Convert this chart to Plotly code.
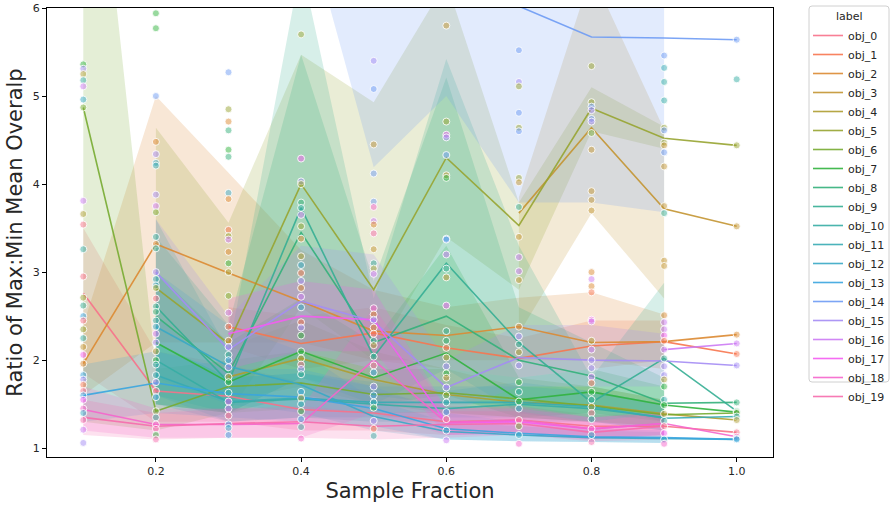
import math
import plotly.graph_objects as go

# ---------------- data ----------------
x_vals = [0.1, 0.2, 0.3, 0.4, 0.5, 0.6, 0.7, 0.8, 0.9, 1.0]
labels = ["obj_0", "obj_1", "obj_2", "obj_3", "obj_4", "obj_5", "obj_6", "obj_7", "obj_8", "obj_9",
          "obj_10", "obj_11", "obj_12", "obj_13", "obj_14", "obj_15", "obj_16", "obj_17", "obj_18", "obj_19"]
legend_title = "label"
N = None

mean_0 = [2.76, 1.65, 1.59, 1.44, 1.40, 1.30, 1.32, 1.25, 1.25, 1.18]
lo_0 = [1.85, 1.30, 1.30, 1.20, 1.20, 1.15, 1.18, 1.12, 1.15, N]
hi_0 = [3.50, 2.10, 1.95, 1.75, 1.65, 1.48, 1.48, 1.38, 1.38, N]

mean_1 = [N, N, 2.38, 2.19, 2.31, 2.14, 2.02, 2.16, 2.21, 2.07]
lo_1 = [N, N, 2.15, 1.90, 2.00, 1.90, 1.80, 1.90, 2.00, N]
hi_1 = [N, N, 2.60, 2.50, 2.60, 2.40, 2.25, 2.45, 2.45, N]

mean_2 = [1.96, 3.32, 2.99, 2.67, 2.33, 2.28, 2.38, 2.20, 2.21, 2.29]
lo_2 = [1.60, 2.20, 2.20, 2.20, 2.00, 2.00, 2.00, 2.00, 1.90, N]
hi_2 = [2.40, 5.00, 4.13, 3.25, 2.80, 2.60, 2.71, 2.77, 2.52, N]

mean_3 = [N, N, N, N, N, N, 3.67, 4.64, 3.72, 3.52]
lo_3 = [N, N, N, N, N, N, 2.30, 3.67, 2.70, N]
hi_3 = [N, N, N, N, N, N, 3.85, 6.40, 4.62, N]

mean_4 = [N, N, 1.81, 2.02, 1.78, 1.61, 1.52, 1.49, 1.39, 1.32]
lo_4 = [N, N, 1.55, 1.70, 1.50, 1.40, 1.35, 1.30, 1.25, N]
hi_4 = [N, N, 2.15, 2.45, 2.10, 1.90, 1.70, 1.70, 1.55, N]

mean_5 = [N, 2.82, 2.19, 4.00, 2.80, 4.30, 3.53, 4.86, 4.52, 4.44]
lo_5 = [N, 1.50, 1.40, 2.60, 2.00, 3.40, 2.80, 4.60, 4.40, N]
hi_5 = [N, 4.64, 3.56, 5.47, 4.93, 6.30, 3.79, 5.10, 4.65, N]

mean_6 = [4.87, 1.42, 1.70, 1.74, 1.61, 1.63, 1.56, 1.48, 1.38, 1.40]
lo_6 = [1.30, 1.20, 1.40, 1.45, 1.40, 1.40, 1.35, 1.30, 1.25, N]
hi_6 = [9.50, 1.90, 2.00, 2.10, 1.90, 1.90, 1.80, 1.70, 1.55, N]

mean_7 = [N, 2.20, 1.75, 2.10, 1.80, 2.08, 1.55, 1.64, 1.49, 1.41]
lo_7 = [N, 1.50, 1.40, 1.60, 1.50, 1.60, 1.35, 1.40, 1.30, N]
hi_7 = [N, 3.00, 2.20, 2.70, 2.20, 3.30, 1.80, 1.90, 1.70, N]

mean_8 = [N, 2.50, 1.85, 3.45, 2.20, 2.50, 2.00, 1.82, 1.51, 1.52]
lo_8 = [N, 1.60, 1.40, 1.80, 1.60, 1.50, 1.50, 1.50, 1.30, N]
hi_8 = [N, 3.40, 2.40, 5.47, 2.90, 5.21, 2.60, 2.20, 1.80, N]

mean_9 = [N, 2.61, 1.75, 3.73, 2.04, 3.10, 2.20, 1.52, 2.02, 1.42]
lo_9 = [N, 1.50, 1.40, 1.80, 1.50, 1.90, 1.40, 1.30, 1.40, N]
hi_9 = [N, 3.60, 2.10, 6.50, 2.70, 5.42, 3.30, 1.80, 2.88, N]

mean_10 = [N, 2.00, 1.52, 1.56, 1.50, 1.45, 1.50, 1.45, 1.35, N]
lo_10 = [N, 1.60, 1.30, 1.35, 1.30, 1.30, 1.30, 1.30, 1.20, N]
hi_10 = [N, 2.50, 1.80, 1.85, 1.75, 1.65, 1.75, 1.65, 1.50, N]

mean_11 = [N, 1.83, 1.53, 1.57, 1.52, 1.52, 1.52, 1.47, 1.34, 1.36]
lo_11 = [N, 1.50, 1.30, 1.35, 1.35, 1.35, 1.35, 1.30, 1.20, N]
hi_11 = [N, 2.20, 1.80, 1.85, 1.70, 1.70, 1.70, 1.65, 1.50, N]

mean_12 = [N, 2.38, 1.93, 1.72, 1.36, 1.19, 1.15, 1.12, 1.11, 1.10]
lo_12 = [N, 1.80, 1.50, 1.40, 1.20, 1.10, 1.08, 1.07, 1.06, N]
hi_12 = [N, 3.00, 2.40, 2.10, 1.55, 1.30, 1.25, 1.20, 1.18, N]

mean_13 = [1.60, 1.74, 1.62, 1.58, 1.45, 1.22, 1.17, 1.13, 1.12, 1.10]
lo_13 = [1.30, 1.40, 1.35, 1.30, 1.25, 1.10, 1.08, 1.07, 1.06, N]
hi_13 = [1.95, 2.10, 1.90, 1.90, 1.70, 1.40, 1.30, 1.22, 1.20, N]

mean_14 = [N, N, N, 9.00, 7.20, 7.50, 6.02, 5.67, 5.66, 5.64]
lo_14 = [N, N, N, 7.20, 4.19, 5.00, 3.79, 3.79, 3.68, N]
hi_14 = [N, N, N, 11.0, 11.0, 11.0, 9.00, 8.00, 8.00, N]

mean_15 = [N, 3.00, 2.12, 2.67, 2.44, 1.69, 2.03, 2.00, 1.99, 1.94]
lo_15 = [N, 2.20, 1.80, 2.10, 1.90, 1.40, 1.70, 1.70, 1.70, N]
hi_15 = [N, 3.60, 2.50, 3.30, 3.20, 2.00, 2.40, 2.40, 2.30, N]

mean_16 = [N, N, N, N, N, N, N, N, 2.12, 2.19]
lo_16 = [N, N, N, N, N, N, N, N, 1.90, N]
hi_16 = [N, N, N, N, N, N, N, N, 2.40, N]

mean_17 = [N, N, 2.30, 2.50, 2.46, 1.29, 1.30, 1.22, 1.28, N]
lo_17 = [N, N, 1.90, 2.10, 2.10, 1.15, 1.15, 1.10, 1.15, N]
hi_17 = [N, N, 2.70, 2.90, 2.80, 1.45, 1.45, 1.35, 1.40, N]

mean_18 = [1.44, 1.27, 1.27, 1.28, 2.00, 1.29, 1.32, 1.22, 1.28, 1.13]
lo_18 = [1.20, 1.12, 1.12, 1.12, 1.40, 1.15, 1.18, 1.10, 1.15, N]
hi_18 = [1.70, 1.45, 1.45, 1.45, 2.60, 1.45, 1.48, 1.35, 1.42, N]

mean_19 = [1.35, 1.25, 1.28, 1.30, 1.25, 1.27, 1.28, 1.18, 1.25, N]
lo_19 = [1.15, 1.10, 1.12, 1.12, 1.10, 1.12, 1.15, 1.08, 1.10, N]
hi_19 = [1.55, 1.40, 1.45, 1.48, 1.40, 1.42, 1.42, 1.30, 1.40, N]

means = [mean_0, mean_1, mean_2, mean_3, mean_4, mean_5, mean_6, mean_7, mean_8, mean_9,
         mean_10, mean_11, mean_12, mean_13, mean_14, mean_15, mean_16, mean_17, mean_18, mean_19]
los = [lo_0, lo_1, lo_2, lo_3, lo_4, lo_5, lo_6, lo_7, lo_8, lo_9,
       lo_10, lo_11, lo_12, lo_13, lo_14, lo_15, lo_16, lo_17, lo_18, lo_19]
his = [hi_0, hi_1, hi_2, hi_3, hi_4, hi_5, hi_6, hi_7, hi_8, hi_9,
       hi_10, hi_11, hi_12, hi_13, hi_14, hi_15, hi_16, hi_17, hi_18, hi_19]

# individual observations (value, series index) per sample fraction
pts_y_01 = [5.36, 5.31, 5.25, 5.18, 5.11, 4.96, 4.87, 3.81, 3.66, 3.54, 3.26, 2.95, 2.71, 2.62, 2.50, 2.45,
            2.35, 2.25, 2.15, 2.06, 1.96, 1.83, 1.78, 1.72, 1.65, 1.60, 1.55, 1.45, 1.40, 1.32, 1.21, 1.06]
pts_s_01 = [7, 15, 4, 10, 16, 12, 6, 16, 4, 0, 10, 0, 5, 9, 13, 0, 5, 10, 3, 17, 2, 13, 15, 1, 0, 13, 17, 18,
            12, 19, 16, 15]
pts_y_02 = [5.94, 5.77, 5.00, 4.48, 4.34, 4.24, 4.21, 3.88, 3.75, 3.68, 3.40, 3.32, 3.27, 3.00, 2.92, 2.85,
            2.82, 2.70, 2.61, 2.55, 2.45, 2.38, 2.30, 2.20, 2.10, 2.00, 1.95, 1.83, 1.75, 1.65, 1.58, 1.42,
            1.35, 1.27, 1.22, 1.15, 1.10]
pts_s_02 = [7, 7, 14, 2, 15, 12, 11, 15, 16, 6, 10, 2, 9, 15, 11, 12, 5, 0, 9, 8, 10, 12, 16, 15, 4, 7, 10,
            11, 15, 0, 13, 6, 10, 18, 19, 7, 19]
pts_y_03 = [5.27, 4.85, 4.71, 4.61, 4.39, 4.31, 3.90, 3.83, 3.48, 3.41, 3.37, 3.23, 3.10, 3.00, 2.73, 2.54,
            2.38, 2.22, 2.15, 2.06, 2.00, 1.92, 1.81, 1.75, 1.63, 1.53, 1.45, 1.37, 1.27, 1.23, 1.15]
pts_s_03 = [14, 5, 2, 8, 7, 8, 12, 2, 1, 5, 16, 2, 7, 4, 6, 16, 1, 2, 15, 9, 13, 15, 4, 7, 10, 17, 16, 0,
            13, 12, 13]
pts_y_04 = [5.70, 4.29, 4.03, 4.00, 3.79, 3.73, 3.65, 3.52, 3.38, 3.18, 3.08, 2.99, 2.90, 2.82, 2.72, 2.60,
            2.43, 2.37, 2.28, 2.10, 2.02, 1.95, 1.90, 1.84, 1.64, 1.57, 1.50, 1.42, 1.33, 1.24, 1.11]
pts_s_04 = [5, 17, 15, 5, 8, 10, 16, 5, 2, 4, 12, 1, 15, 2, 16, 12, 1, 15, 7, 7, 4, 0, 15, 9, 13, 4, 11, 7,
            13, 10, 18]
pts_y_05 = [5.40, 5.08, 4.45, 4.12, 3.80, 3.74, 3.58, 3.54, 3.44, 3.26, 3.10, 3.04, 2.98, 2.59, 2.52, 2.46,
            2.37, 2.30, 2.22, 2.17, 2.04, 1.94, 1.86, 1.70, 1.60, 1.52, 1.46, 1.31, 1.22, 1.14]
pts_s_05 = [15, 14, 3, 14, 14, 18, 16, 2, 19, 3, 9, 5, 16, 18, 2, 15, 2, 1, 9, 4, 9, 0, 13, 15, 13, 11, 7,
            15, 1, 10]
pts_y_06 = [5.80, 4.71, 4.56, 4.53, 4.33, 4.10, 4.07, 3.38, 3.37, 3.20, 3.04, 2.94, 2.62, 2.33, 2.22, 2.14,
            2.03, 1.93, 1.85, 1.80, 1.69, 1.60, 1.52, 1.41, 1.33, 1.20, 1.09]
pts_s_06 = [3, 5, 17, 15, 14, 3, 7, 13, 14, 16, 9, 3, 17, 9, 8, 1, 4, 15, 7, 3, 15, 6, 11, 13, 0, 12, 16]
pts_y_07 = [5.52, 5.16, 5.11, 4.81, 4.64, 4.60, 4.07, 4.02, 3.74, 3.40, 3.17, 3.01, 2.91, 2.38, 2.27, 2.18,
            2.09, 1.94, 1.75, 1.64, 1.53, 1.45, 1.32, 1.25, 1.15, 1.05]
pts_s_07 = [14, 15, 5, 14, 5, 14, 5, 3, 9, 3, 16, 16, 3, 2, 15, 9, 4, 15, 7, 10, 7, 12, 0, 6, 12, 18]
pts_y_08 = [5.34, 4.93, 4.88, 4.84, 4.74, 4.71, 4.58, 4.39, 3.92, 3.82, 3.70, 3.00, 2.92, 2.84, 2.77, 2.46,
            2.44, 2.22, 2.12, 2.00, 1.91, 1.81, 1.74, 1.64, 1.55, 1.47, 1.40, 1.33, 1.22, 1.15, 1.07]
pts_s_08 = [5, 5, 14, 15, 14, 15, 6, 3, 3, 3, 3, 2, 16, 2, 1, 17, 16, 4, 16, 15, 15, 16, 1, 7, 9, 4, 0, 10,
            18, 12, 19]
pts_y_09 = [5.46, 5.32, 5.16, 4.95, 4.64, 4.61, 4.47, 4.44, 4.36, 4.20, 3.75, 3.67, 3.13, 3.07, 2.51, 2.43,
            2.35, 2.28, 2.22, 2.12, 2.02, 1.93, 1.83, 1.78, 1.70, 1.55, 1.49, 1.39, 1.31, 1.25, 1.17, 1.10, 1.05]
pts_s_09 = [14, 11, 10, 10, 5, 14, 5, 3, 14, 3, 3, 9, 3, 3, 2, 16, 16, 17, 1, 16, 9, 15, 15, 4, 7, 11, 7, 4,
            10, 0, 17, 12, 18]
pts_y_10 = [5.64, 5.19, 4.44, 3.52, 2.29, 2.19, 2.07, 1.94, 1.52, 1.42, 1.41, 1.40, 1.36, 1.32, 1.18, 1.13,
            1.11, 1.10]
pts_s_10 = [14, 10, 5, 3, 2, 16, 1, 15, 8, 9, 7, 6, 11, 4, 0, 18, 12, 13]

pts_y = [pts_y_01, pts_y_02, pts_y_03, pts_y_04, pts_y_05, pts_y_06, pts_y_07, pts_y_08, pts_y_09, pts_y_10]
pts_s = [pts_s_01, pts_s_02, pts_s_03, pts_s_04, pts_s_05, pts_s_06, pts_s_07, pts_s_08, pts_s_09, pts_s_10]

# ---------------- seaborn "husl" palette ----------------
_M = [[3.2406, -1.5372, -0.4986], [-0.9689, 1.8758, 0.0415], [0.0557, -0.2040, 1.0570]]
_refU, _refV, _lab_e, _lab_k = 0.19784, 0.46834, 0.008856, 903.3


def _max_chroma(L, H):
    hrad = math.radians(H)
    sinH, cosH = math.sin(hrad), math.cos(hrad)
    sub1 = ((L + 16.0) ** 3) / 1560896.0
    sub2 = sub1 if sub1 > _lab_e else L / _lab_k
    result = float("inf")
    for m1, m2, m3 in _M:
        top = (0.99915 * m1 + 1.05122 * m2 + 1.14460 * m3) * sub2
        rbottom = 0.86330 * m3 - 0.17266 * m2
        lbottom = 0.12949 * m3 - 0.38848 * m1
        bottom = (rbottom * sinH + lbottom * cosH) * sub2
        for t in (0.0, 1.0):
            C = L * (top - 1.05122 * t) / (bottom + 0.17266 * sinH * t)
            if 0.0 < C < result:
                result = C
    return result


def _f_inv(t):
    return t ** 3 if t ** 3 > _lab_e else (116.0 * t - 16.0) / _lab_k


def _from_linear(c):
    return 12.92 * c if c <= 0.0031308 else 1.055 * c ** (1 / 2.4) - 0.055


def husl_to_rgb(h, s, l):
    C = _max_chroma(l, h) / 100.0 * s
    hrad = math.radians(h)
    U, V = math.cos(hrad) * C, math.sin(hrad) * C
    varY = _f_inv((l + 16.0) / 116.0)
    varU = U / (13.0 * l) + _refU
    varV = V / (13.0 * l) + _refV
    Y = varY
    X = 0.0 - (9.0 * Y * varU) / ((varU - 4.0) * varV - varU * varV)
    Z = (9.0 * Y - 15.0 * varV * Y - varV * X) / (3.0 * varV)
    rgb = [_from_linear(r[0] * X + r[1] * Y + r[2] * Z) for r in _M]
    return [min(1.0, max(0.0, c)) for c in rgb]


n = len(labels)
palette = []
for i in range(n):
    hue = ((i / n) + 0.01) % 1 * 359
    r, g, b = husl_to_rgb(hue, 0.9 * 99, 0.65 * 99)
    palette.append((round(r * 255), round(g * 255), round(b * 255)))


def rgba(c, a):
    return f"rgba({c[0]},{c[1]},{c[2]},{a})"


# ---------------- figure ----------------
fig = go.Figure()

# confidence bands
for i in range(n):
    bx, blo, bhi = [], [], []
    for x, lo, hi in zip(x_vals, los[i], his[i]):
        if lo is not None and hi is not None:
            bx.append(x); blo.append(lo); bhi.append(hi)
    if len(bx) < 2:
        continue
    fig.add_trace(go.Scatter(x=bx + bx[::-1], y=bhi + blo[::-1], fill="toself",
                             fillcolor=rgba(palette[i], 0.2), line=dict(width=0),
                             mode="lines", hoverinfo="skip", showlegend=False))

# mean lines
for i in range(n):
    lx = [x for x, m in zip(x_vals, means[i]) if m is not None]
    ly = [m for m in means[i] if m is not None]
    fig.add_trace(go.Scatter(x=lx, y=ly, mode="lines", name=labels[i],
                             line=dict(color=rgba(palette[i], 0.9), width=1.6)))

# observations
sx, sy, sc = [], [], []
for x, ys, ss in zip(x_vals, pts_y, pts_s):
    for y, s in zip(ys, ss):
        sx.append(x); sy.append(y); sc.append(rgba(palette[s], 0.5))
fig.add_trace(go.Scatter(x=sx, y=sy, mode="markers", showlegend=False, hoverinfo="skip",
                         marker=dict(size=7, color=sc, line=dict(color="rgba(255,255,255,0.85)", width=1))))

axis_common = dict(showline=True, linecolor="black", linewidth=1.2, mirror=True, ticks="outside",
                   ticklen=4, tickwidth=1, tickcolor="black", showgrid=False, zeroline=False,
                   tickfont=dict(family="DejaVu Sans", size=11, color="#262626"))

# legend frame (rounded) in paper coordinates
W, H = 726.0, 449.0
fx0, fx1 = (809 - 47) / W, (889 - 47) / W
fy0, fy1 = (457 - 382) / H, (457 - 6) / H
rx, ry = 3 / W, 3 / H
frame_path = (f"M {fx0 + rx},{fy1} L {fx1 - rx},{fy1} Q {fx1},{fy1} {fx1},{fy1 - ry} "
              f"L {fx1},{fy0 + ry} Q {fx1},{fy0} {fx1 - rx},{fy0} L {fx0 + rx},{fy0} "
              f"Q {fx0},{fy0} {fx0},{fy0 + ry} L {fx0},{fy1 - ry} Q {fx0},{fy1} {fx0 + rx},{fy1} Z")

fig.update_layout(
    width=891, height=510,
    margin=dict(l=47, r=118, t=8, b=53, autoexpand=False),
    paper_bgcolor="white", plot_bgcolor="white",
    font=dict(family="DejaVu Sans", color="#262626"),
    xaxis=dict(range=[0.05, 1.05], tickvals=[0.2, 0.4, 0.6, 0.8, 1.0], ticktext=["0.2", "0.4", "0.6", "0.8", "1.0"],
               title=dict(text="Sample Fraction", font=dict(size=21, color="#262626"), standoff=6), **axis_common),
    yaxis=dict(range=[0.9, 6.0], tickvals=[1, 2, 3, 4, 5, 6],
               title=dict(text="Ratio of Max:Min Mean Overalp", font=dict(size=21, color="#262626"), standoff=4),
               **axis_common),
    legend=dict(x=(808 - 47) / W, y=(457 - 21) / H, xanchor="left", yanchor="top", maxheight=1.0,
                itemwidth=30, font=dict(size=11, color="#262626"),
                borderwidth=0, bgcolor="rgba(0,0,0,0)", tracegroupgap=0),
    shapes=[dict(type="path", xref="paper", yref="paper", path=frame_path,
                 line=dict(color="#d0d0d0", width=1), fillcolor="rgba(0,0,0,0)", layer="below")],
    annotations=[dict(text=legend_title, xref="paper", yref="paper", x=(849 - 47) / W, y=(457 - 17) / H,
                      xanchor="center", yanchor="middle", showarrow=False,
                      font=dict(size=11, color="#262626"))],
)

fig.write_html("out.html")
